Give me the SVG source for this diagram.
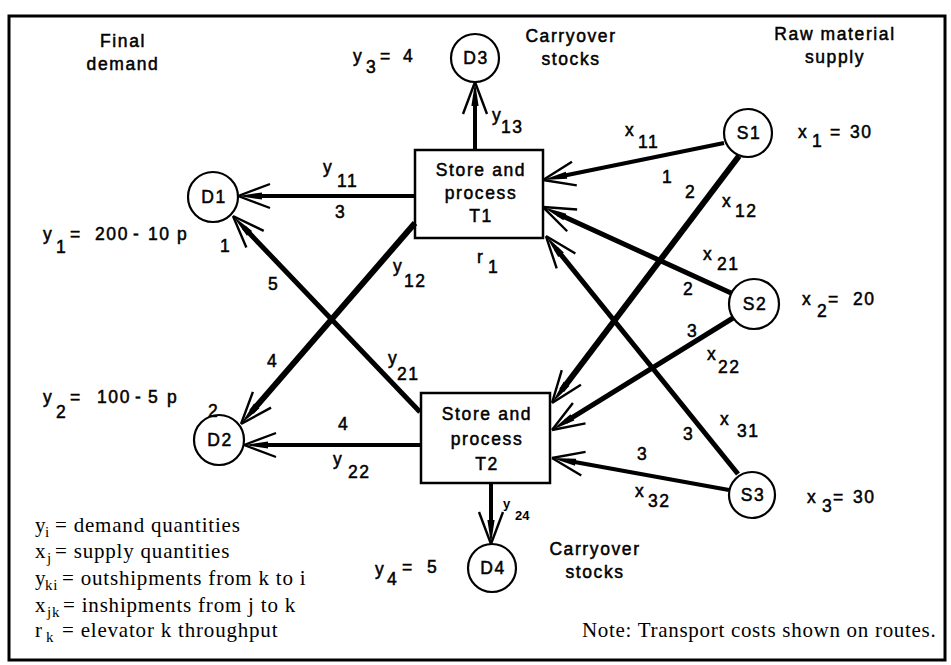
<svg xmlns="http://www.w3.org/2000/svg" width="951" height="665" viewBox="0 0 951 665">
<style>
.t{font-family:"Liberation Sans",Arial,Helvetica,sans-serif;font-size:17.5px;letter-spacing:1.6px;fill:#000;stroke:#000;stroke-width:0.5px}
.s{font-family:"Liberation Sans",Arial,sans-serif;font-size:13px;font-weight:bold;fill:#000}
.m{text-anchor:middle}
.lg{font-family:"Liberation Serif","Times New Roman",serif;font-size:21px;letter-spacing:0.8px;fill:#000}
.sb{font-size:15px}
.nd{fill:#fff;stroke:#000;stroke-width:2.2}
.bx{fill:#fff;stroke:#000;stroke-width:2.5}
.c{stroke:#000;stroke-width:5;fill:none;marker-end:url(#ah)}
.c4{stroke-width:4}
.c6{stroke-width:6}
</style>
<defs>
<marker id="ah" markerUnits="userSpaceOnUse" markerWidth="40" markerHeight="30" viewBox="-20 -15 40 30" refX="0" refY="0" orient="auto" overflow="visible">
<path d="M16,0 L-8,-3.6 L-8,3.6 Z" fill="#000"/>
<path d="M16,0 L-16,-12 M16,0 L-16,12" stroke="#000" stroke-width="2.4" fill="none"/>
</marker>
</defs>
<rect x="0" y="0" width="951" height="665" fill="#fff"/>
<rect x="9" y="16" width="936" height="644" fill="none" stroke="#000" stroke-width="3"/>

<g id="headings" class="t m">
<text x="123" y="47">Final</text><text x="123" y="70">demand</text>
<text x="571" y="42">Carryover</text><text x="571" y="65">stocks</text>
<text x="835" y="40">Raw material</text><text x="835" y="63">supply</text>
<text x="595" y="555">Carryover</text><text x="595" y="578">stocks</text>
</g>

<g id="D1"><circle class="nd" cx="213" cy="197" r="25"/><text class="t m" x="214" y="203">D1</text>
<text class="t"><tspan x="43" y="240">y</tspan><tspan x="56" y="253">1</tspan><tspan x="70" y="240">=</tspan><tspan x="95" y="240">200</tspan><tspan x="133" y="240">-</tspan><tspan x="148" y="240">10</tspan><tspan x="177" y="240">p</tspan></text></g>
<g id="D2"><circle class="nd" cx="219" cy="440" r="25"/><text class="t m" x="220" y="446">D2</text>
<text class="t"><tspan x="43" y="403">y</tspan><tspan x="56" y="418">2</tspan><tspan x="70" y="403">=</tspan><tspan x="97" y="403">100</tspan><tspan x="135" y="403">-</tspan><tspan x="148" y="403">5</tspan><tspan x="167" y="403">p</tspan></text></g>
<g id="D3"><circle class="nd" cx="475" cy="58" r="24"/><text class="t m" x="476" y="64">D3</text>
<text class="t"><tspan x="353" y="62">y</tspan><tspan x="366" y="73">3</tspan><tspan x="380" y="62">=</tspan><tspan x="403" y="62">4</tspan></text></g>
<g id="D4"><circle class="nd" cx="492" cy="568" r="24"/><text class="t m" x="493" y="574">D4</text>
<text class="t"><tspan x="375" y="575">y</tspan><tspan x="387" y="585">4</tspan><tspan x="402" y="573">=</tspan><tspan x="427" y="573">5</tspan></text></g>

<g id="T1"><rect class="bx" x="415" y="150" width="128" height="88"/>
<text class="t m" x="481" y="176">Store and</text><text class="t m" x="481" y="199">process</text><text class="t m" x="481" y="222">T1</text>
<text class="t"><tspan x="477" y="263">r</tspan><tspan x="488" y="273">1</tspan></text></g>
<g id="T2"><rect class="bx" x="421" y="393" width="129" height="90"/>
<text class="t m" x="487" y="420">Store and</text><text class="t m" x="487" y="445">process</text><text class="t m" x="487" y="470">T2</text></g>

<g id="S1"><circle class="nd" cx="748" cy="133" r="24"/><text class="t m" x="749" y="139">S1</text>
<text class="t"><tspan x="798" y="138">x</tspan><tspan x="812" y="147">1</tspan><tspan x="830" y="138">=</tspan><tspan x="850" y="138">30</tspan></text></g>
<g id="S2"><circle class="nd" cx="754" cy="304" r="25"/><text class="t m" x="755" y="310">S2</text>
<text class="t"><tspan x="802" y="305">x</tspan><tspan x="817" y="317">2</tspan><tspan x="828" y="305">=</tspan><tspan x="853" y="305">20</tspan></text></g>
<g id="S3"><circle class="nd" cx="752" cy="495" r="23"/><text class="t m" x="753" y="501">S3</text>
<text class="t"><tspan x="807" y="503">x</tspan><tspan x="822" y="512">3</tspan><tspan x="833" y="503">=</tspan><tspan x="853" y="503">30</tspan></text></g>

<g id="connectors">
<line class="c c4" x1="415" y1="196" x2="254" y2="196"/>
<line class="c c4" x1="475" y1="150" x2="475" y2="98"/>
<line class="c c6" x1="415" y1="223" x2="251.5" y2="411.9"/>
<line class="c" x1="420" y1="412" x2="244" y2="227.6"/>
<line class="c c4" x1="421" y1="445" x2="260" y2="445"/>
<line class="c c4" x1="491" y1="483" x2="491" y2="528"/>
<line class="c c4" x1="724" y1="143" x2="558.7" y2="176.8"/>
<line class="c c6" x1="739" y1="156" x2="561.7" y2="390.2"/>
<line class="c" x1="731" y1="293" x2="557.6" y2="213.7"/>
<line class="c" x1="733" y1="318" x2="565.6" y2="421.6"/>
<line class="c" x1="738" y1="474" x2="556" y2="248.5"/>
<line class="c c4" x1="729" y1="490" x2="567.7" y2="460.8"/>
</g>

<g id="edge-labels" class="t">
<text><tspan x="323" y="173">y</tspan><tspan x="337" y="187">11</tspan></text>
<text x="335" y="218">3</text>
<text><tspan x="492" y="121">y</tspan><tspan x="501" y="133">13</tspan></text>
<text><tspan x="393" y="272">y</tspan><tspan x="404" y="287">12</tspan></text>
<text><tspan x="388" y="364">y</tspan><tspan x="397" y="380">21</tspan></text>
<text x="220" y="252">1</text>
<text x="268" y="290">5</text>
<text x="267" y="367">4</text>
<text x="208" y="417">2</text>
<text x="338" y="430">4</text>
<text><tspan x="333" y="465">y</tspan><tspan x="348" y="478">22</tspan></text>
<text x="625" y="136">x</text><text x="638" y="148">11</text>
<text x="662" y="183">1</text>
<text x="685" y="198">2</text>
<text x="722" y="207">x</text><text x="735" y="217">12</text>
<text x="703" y="260">x</text><text x="717" y="270">21</text>
<text x="683" y="295">2</text>
<text x="687" y="337">3</text>
<text x="707" y="360">x</text><text x="718" y="373">22</text>
<text x="720" y="425">x</text><text x="737" y="437">31</text>
<text x="683" y="440">3</text>
<text x="637" y="460">3</text>
<text x="635" y="497">x</text><text x="648" y="507">32</text>
</g>
<g id="y24-label" class="s"><text x="503" y="508">y</text><text x="515" y="520">24</text></g>

<g id="legend" class="lg">
<text><tspan x="35" y="532">y</tspan><tspan x="45" y="537" class="sb">i</tspan><tspan x="55" y="532">= demand quantities</tspan></text>
<text><tspan x="35" y="558">x</tspan><tspan x="47" y="563" class="sb">j</tspan><tspan x="55" y="558">= supply quantities</tspan></text>
<text><tspan x="35" y="585">y</tspan><tspan x="45" y="590" class="sb">ki</tspan><tspan x="62" y="585">= outshipments from k to i</tspan></text>
<text><tspan x="35" y="612">x</tspan><tspan x="47" y="617" class="sb">jk</tspan><tspan x="63" y="612">= inshipments from j to k</tspan></text>
<text><tspan x="35" y="637">r</tspan><tspan x="46" y="642" class="sb">k</tspan><tspan x="62" y="637">= elevator k throughput</tspan></text>
<text x="582" y="637" letter-spacing="0.7">Note:  Transport costs shown on routes.</text>
</g>
</svg>
